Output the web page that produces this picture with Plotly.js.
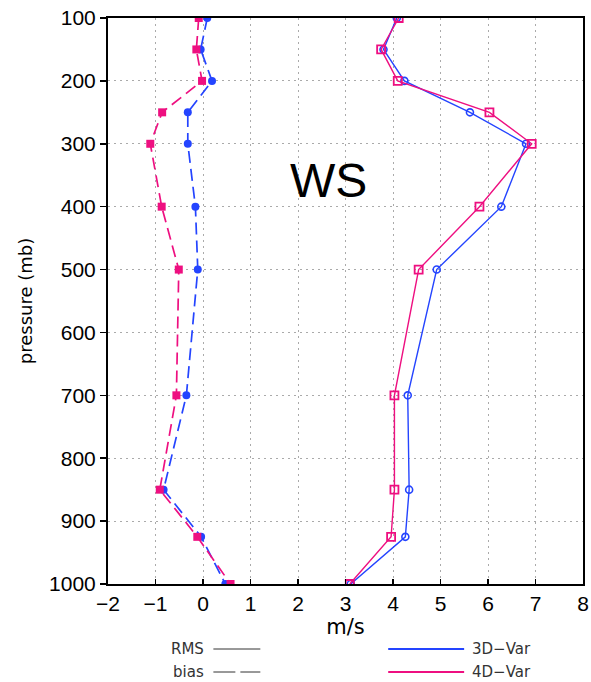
<!DOCTYPE html>
<html>
<head>
<meta charset="utf-8">
<script src="https://cdn.plot.ly/plotly-3.0.1.min.js"></script>
<style>html,body{margin:0;padding:0;background:#fff;}#chart{width:591px;height:682px;}</style>
</head>
<body>
<div id="chart"></div>
<script>
const pressure = [100, 150, 200, 250, 300, 400, 500, 700, 850, 925, 1000];
const rms3d  = [4.08, 3.80, 4.24, 5.62, 6.80, 6.28, 4.92, 4.31, 4.34, 4.26, 3.11];
const rms4d  = [4.12, 3.75, 4.10, 6.03, 6.92, 5.82, 4.54, 4.03, 4.03, 3.96, 3.09];
const bias3d = [0.09, -0.05, 0.19, -0.32, -0.32, -0.16, -0.11, -0.35, -0.83, -0.04, 0.47];
const bias4d = [-0.09, -0.14, -0.02, -0.86, -1.11, -0.87, -0.51, -0.56, -0.91, -0.12, 0.58];
const xTicks = [-2, -1, 0, 1, 2, 3, 4, 5, 6, 7, 8];
const yTicks = [100, 200, 300, 400, 500, 600, 700, 800, 900, 1000];

const BLUE = '#2444ff';
const PINK = '#ee0f80';

const traces = [
  {x: bias3d, y: pressure, mode: 'lines+markers', name: '3D-Var bias',
   line: {color: BLUE, width: 1.7, dash: '12px,6px'},
   marker: {symbol: 'circle', size: 8, color: BLUE}},
  {x: bias4d, y: pressure, mode: 'lines+markers', name: '4D-Var bias',
   line: {color: PINK, width: 1.7, dash: '12px,6px'},
   marker: {symbol: 'square', size: 8, color: PINK}},
  {x: rms3d, y: pressure, mode: 'lines+markers', name: '3D-Var RMS',
   line: {color: BLUE, width: 1.4},
   marker: {symbol: 'circle-open', size: 7, color: BLUE, line: {width: 1.6}}},
  {x: rms4d, y: pressure, mode: 'lines+markers', name: '4D-Var RMS',
   line: {color: PINK, width: 1.4},
   marker: {symbol: 'square-open', size: 8, color: PINK, line: {width: 1.8}}}
];

const L = 107.5, R = 583, T = 18, B = 584;
function px(x){ return (x - L) / (R - L); }
function py(y){ return 1 - (y - T) / (B - T); }

const legFont = {family: 'DejaVu Sans', size: 15, color: '#333'};

const layout = {
  width: 591, height: 682,
  margin: {l: L, r: 591 - R, t: T, b: 682 - B},
  paper_bgcolor: '#fff', plot_bgcolor: '#fff',
  showlegend: false,
  font: {family: 'Liberation Sans, Arial, sans-serif', color: '#000'},
  xaxis: {
    range: [-2, 8], tickvals: xTicks, ticktext: xTicks.map(v => v < 0 ? '\u2212' + Math.abs(v) : String(v)),
    showline: true, mirror: true, linecolor: '#000', linewidth: 2,
    ticks: 'inside', ticklen: 5, tickcolor: '#000', tickwidth: 1.5,
    showgrid: true, gridcolor: '#aaaaaa', griddash: '2px,4px', gridwidth: 1,
    zeroline: false, tickfont: {size: 21, family: 'Liberation Sans'},
    title: {text: 'm/s', font: {size: 21, family: 'DejaVu Sans'}, standoff: 0}
  },
  yaxis: {
    range: [1000, 100], tickvals: yTicks,
    showline: true, mirror: true, linecolor: '#000', linewidth: 2,
    ticks: 'outside', ticklen: 6, tickcolor: '#000', tickwidth: 1.5,
    showgrid: true, gridcolor: '#aaaaaa', griddash: '2px,4px', gridwidth: 1,
    zeroline: false, tickfont: {size: 21, family: 'Liberation Sans'},
    title: {text: 'pressure (mb)', font: {size: 18, family: 'DejaVu Sans'}, standoff: 12}
  },
  annotations: [
    {xref: 'paper', yref: 'paper', x: px(328), y: py(180), text: 'WS', showarrow: false,
     font: {size: 48, family: 'Liberation Sans', color: '#000'}, xanchor: 'center', yanchor: 'middle'},
    {xref: 'paper', yref: 'paper', x: px(206), y: py(649), text: 'RMS', showarrow: false,
     font: legFont, xanchor: 'right', yanchor: 'middle'},
    {xref: 'paper', yref: 'paper', x: px(206), y: py(672), text: 'bias', showarrow: false,
     font: legFont, xanchor: 'right', yanchor: 'middle'},
    {xref: 'paper', yref: 'paper', x: px(470), y: py(649), text: '3D\u2212Var', showarrow: false,
     font: legFont, xanchor: 'left', yanchor: 'middle'},
    {xref: 'paper', yref: 'paper', x: px(470), y: py(672), text: '4D\u2212Var', showarrow: false,
     font: legFont, xanchor: 'left', yanchor: 'middle'}
  ],
  shapes: [
    {type: 'line', xref: 'paper', yref: 'paper', x0: px(213), x1: px(260), y0: py(649), y1: py(649),
     line: {color: '#333', width: 1}},
    {type: 'line', xref: 'paper', yref: 'paper', x0: px(213), x1: px(235), y0: py(672), y1: py(672),
     line: {color: '#333', width: 1}},
    {type: 'line', xref: 'paper', yref: 'paper', x0: px(240), x1: px(260), y0: py(672), y1: py(672),
     line: {color: '#333', width: 1}},
    {type: 'line', xref: 'paper', yref: 'paper', x0: px(388), x1: px(464), y0: py(649), y1: py(649),
     line: {color: BLUE, width: 2}},
    {type: 'line', xref: 'paper', yref: 'paper', x0: px(388), x1: px(464), y0: py(672), y1: py(672),
     line: {color: PINK, width: 2}}
  ]
};

Plotly.newPlot('chart', traces, layout, {displayModeBar: false, staticPlot: true});
</script>
</body>
</html>
